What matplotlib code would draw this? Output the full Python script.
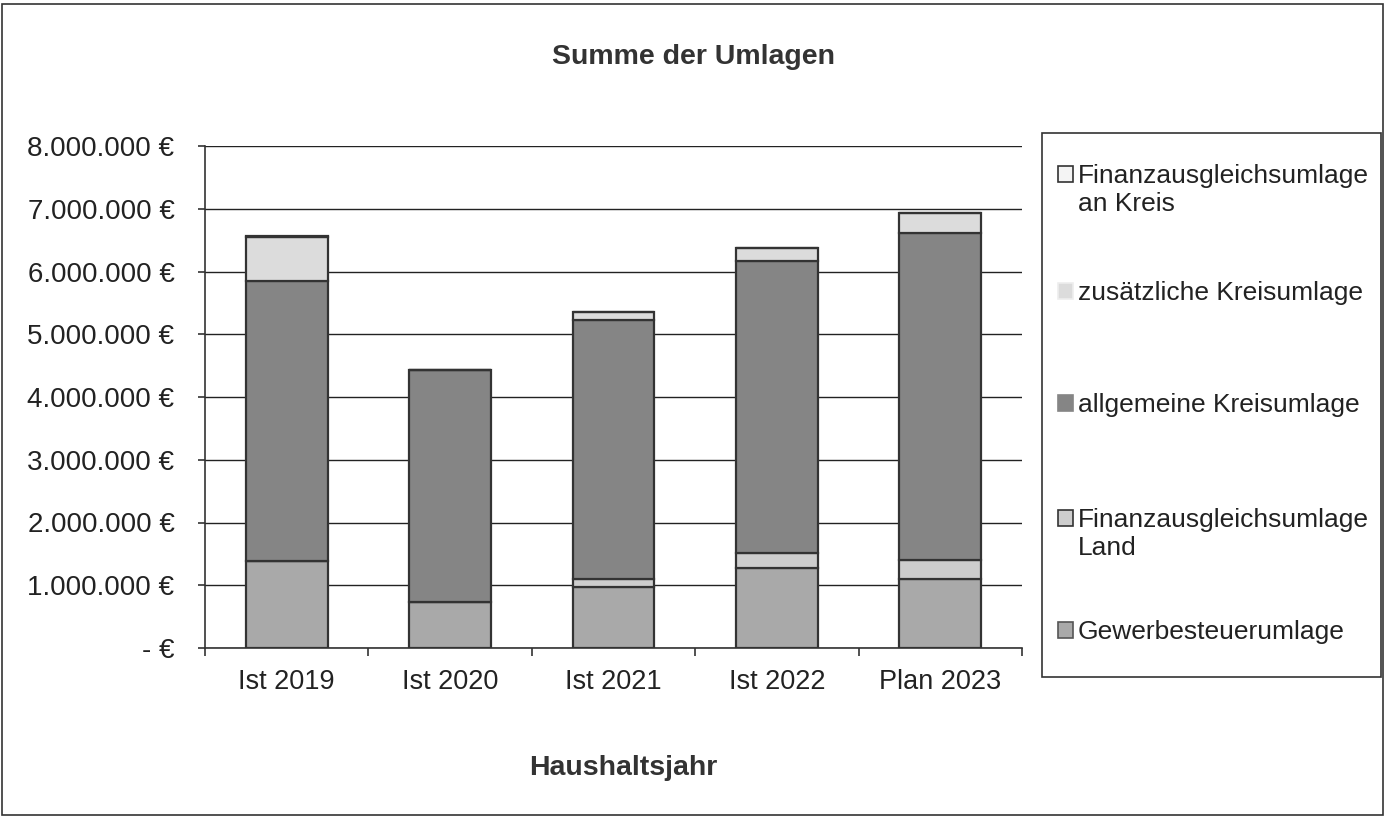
import matplotlib
matplotlib.use("Agg")
import matplotlib.pyplot as plt
from matplotlib.patches import Rectangle, Patch
from matplotlib.ticker import FuncFormatter, FixedLocator

plt.rcParams['font.family'] = ['Liberation Sans', 'DejaVu Sans']

categories = ["Ist 2019", "Ist 2020", "Ist 2021", "Ist 2022", "Plan 2023"]
series_names = ["Gewerbesteuerumlage", "Finanzausgleichsumlage\nLand",
                "allgemeine Kreisumlage", "zusätzliche Kreisumlage",
                "Finanzausgleichsumlage\nan Kreis"]
gewerbe = [1386000, 730000, 970000, 1280000, 1100000]
fag_land = [0, 0, 130000, 230000, 300000]
allgemeine = [4464000, 3700000, 4130000, 4660000, 5210000]
zusaetzlich = [700000, 0, 130000, 200000, 320000]
fag_kreis = [20000, 0, 0, 10000, 10000]
colors = ["#a9a9a9", "#cdcdcd", "#858585", "#dcdcdc", "#f4f4f4"]
legend_edges = ["#555555", "#333333", "#858585", "#eeeeee", "#333333"]
yticks = [0, 1000000, 2000000, 3000000, 4000000, 5000000, 6000000, 7000000, 8000000]

W, H = 1386, 818
fig = plt.figure(figsize=(W / 100, H / 100), dpi=100)
fig.patch.set_facecolor("white")
fig.add_artist(Rectangle((2 / W, 3 / H), 1 - 5 / W, 1 - 7 / H, transform=fig.transFigure,
                         fill=False, edgecolor="#333333", linewidth=1.2))

ax = fig.add_axes([205 / W, 1 - 648 / H, (1022 - 205) / W, (648 - 146) / H])
x = list(range(len(categories)))
data = [gewerbe, fag_land, allgemeine, zusaetzlich, fag_kreis]
bottom = [0] * len(categories)
for vals, c, name in zip(data, colors, series_names):
    ax.bar(x, vals, width=0.5, bottom=bottom, color=c, edgecolor="#333333",
           linewidth=1.6, zorder=3, label=name)
    bottom = [b + v for b, v in zip(bottom, vals)]

ax.set_xlim(-0.5, len(categories) - 0.5)
ax.set_ylim(0, 8000000)
ax.set_yticks(yticks)
ax.yaxis.set_major_formatter(FuncFormatter(
    lambda v, p: "- €" if v == 0 else f"{v:,.0f}".replace(",", ".") + " €"))
ax.grid(axis="y", color="#222222", linewidth=1.0, zorder=0)
ax.set_axisbelow(True)
for s in ["top", "right"]:
    ax.spines[s].set_visible(False)
for s in ["left", "bottom"]:
    ax.spines[s].set_color("#333333")
    ax.spines[s].set_linewidth(1.2)
ax.set_xticks(x)
ax.set_xticklabels(categories)
ax.tick_params(axis="x", which="major", length=0, pad=15, labelsize=19.5, colors="#222222")
ax.xaxis.set_minor_locator(FixedLocator([i + 0.5 for i in range(-1, len(categories))]))
ax.tick_params(axis="x", which="minor", length=6, width=1.2, color="#333333")
ax.tick_params(axis="y", length=5, width=1.2, color="#333333", labelsize=20, pad=17,
               labelcolor="#222222")
ax.set_xlabel("Haushaltsjahr", fontsize=20.5, fontweight="bold", color="#333333", labelpad=43)
ax.xaxis.label.set_x((623 - 205) / (1022 - 205))

fig.text(0.5, 1 - 57 / H, "Summe der Umlagen", ha="center", va="center",
         fontsize=20.5, fontweight="bold", color="#333333")

# legend frame
fig.add_artist(Rectangle((1042 / W, 1 - 677 / H), (1381 - 1042) / W, (677 - 133) / H,
                         transform=fig.transFigure, fill=False, edgecolor="#333333",
                         linewidth=1.2))
handles = [Patch(facecolor=c, edgecolor=e, linewidth=1.2) for c, e in zip(colors, legend_edges)]
entry_y = [632, 520, 405, 293, 176]   # pixel rows of first text line (layout)
legends = []
for h, name, yc in zip(handles, series_names, entry_y):
    lines = name.split("\n")
    lg = fig.legend([h], [lines[0]], loc="center left",
                    bbox_to_anchor=(1058 / W, 1 - yc / H), frameon=False,
                    fontsize=19, handlelength=0.55, handleheight=0.55, handletextpad=0.2,
                    borderpad=0, borderaxespad=0, labelcolor="#222222")
    legends.append((lg, lines, yc))

fig.canvas.draw()
for lg, lines, yc in legends:
    if len(lines) > 1:
        bb = lg.get_texts()[0].get_window_extent()
        x0 = bb.x0 / W
        for k, ln in enumerate(lines[1:], start=1):
            fig.text(x0, 1 - (yc + 28 * k) / H, ln, ha="left", va="center",
                     fontsize=19, color="#222222")

fig.savefig("out.png", dpi=100, facecolor="white")
